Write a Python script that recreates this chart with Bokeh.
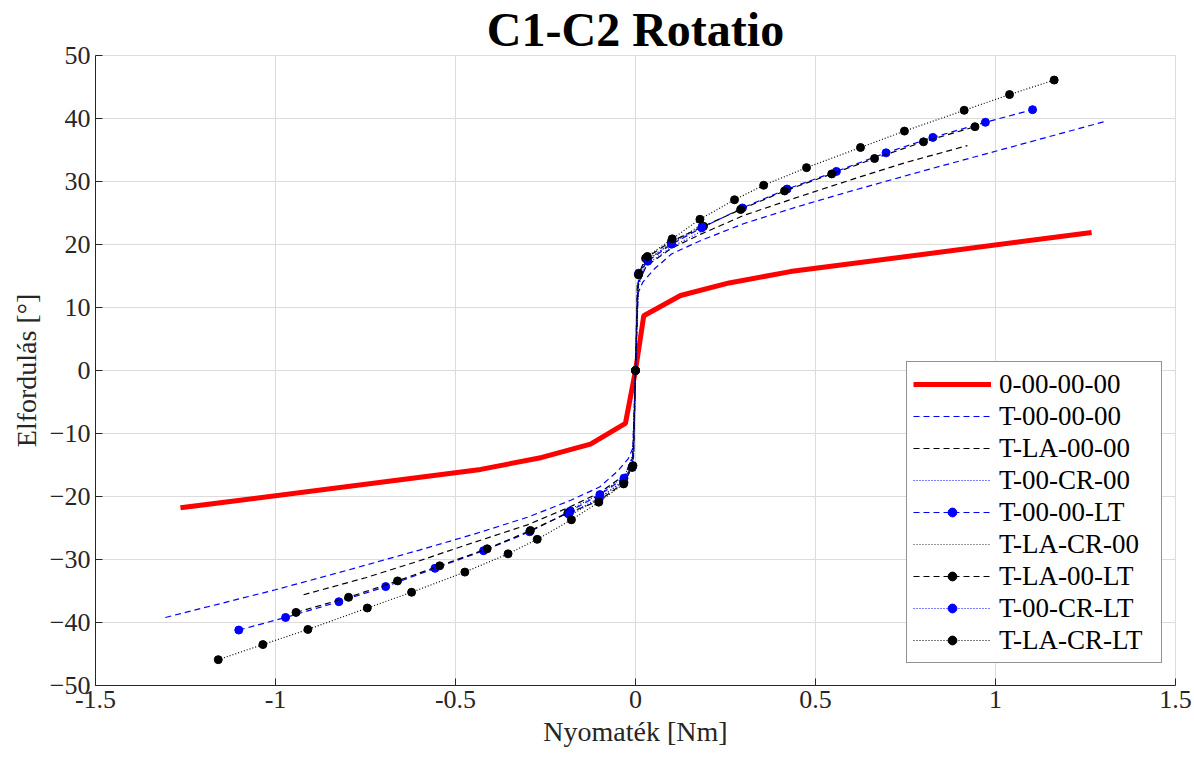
from bokeh.plotting import figure
from bokeh.models import Legend, LegendItem, FixedTicker, Range1d
from bokeh.embed import file_html
from bokeh.resources import INLINE

# ---------------- data ----------------
title_text = "C1-C2 Rotatio"

red_x = [-1.264, -0.43, -0.26, -0.125, -0.028, 0.0, 0.023, 0.125, 0.26, 0.43, 1.267]
red_y = [-21.8, -15.7, -13.8, -11.7, -8.4, 0.0, 8.7, 11.9, 13.9, 15.7, 21.9]

t0000_x = [-1.306, -1.0, -0.8, -0.6, -0.45, -0.3, -0.18, -0.1, -0.05, -0.02, -0.005, 0.0,
           0.005, 0.02, 0.05, 0.1, 0.18, 0.3, 0.45, 0.6, 0.8, 1.0, 1.302]
t0000_y = [-39.2, -34.8, -31.7, -28.5, -26.0, -23.3, -20.6, -18.5, -16.0, -14.0, -12.0, 0.0,
           12.0, 14.0, 16.0, 18.5, 20.6, 23.3, 26.0, 28.5, 31.7, 34.8, 39.5]

tla00_x = [-0.922, -0.75, -0.6, -0.45, -0.3, -0.18, -0.1, -0.03, -0.005, 0.0,
           0.005, 0.03, 0.1, 0.18, 0.3, 0.45, 0.6, 0.75, 0.922]
tla00_y = [-35.6, -32.9, -30.2, -27.3, -24.5, -21.6, -19.4, -16.6, -13.5, 0.0,
           13.5, 16.6, 19.4, 21.6, 24.6, 27.5, 30.3, 33.0, 35.7]

t0cr_x = [-0.19, -0.1, -0.03, -0.005, 0.0, 0.005, 0.03, 0.1, 0.19]
t0cr_y = [-22.3, -19.6, -16.8, -13.0, 0.0, 13.0, 16.8, 19.6, 22.3]

t00lt_x = [-1.102, -0.972, -0.824, -0.694, -0.557, -0.422, -0.294, -0.181, -0.099, -0.032, -0.009, 0.0,
           0.009, 0.034, 0.100, 0.184, 0.297, 0.421, 0.558, 0.696, 0.826, 0.972, 1.103]
t00lt_y = [-41.2, -39.2, -36.7, -34.3, -31.4, -28.6, -25.6, -22.3, -19.7, -17.1, -15.3, 0.0,
           15.45, 17.35, 20.05, 22.65, 25.8, 28.8, 31.6, 34.55, 37.0, 39.4, 41.4]

tlacr_x = [-0.19, -0.1, -0.03, -0.005, 0.0, 0.005, 0.03, 0.1, 0.19]
tlacr_y = [-23.3, -20.3, -17.3, -14.0, 0.0, 14.0, 17.3, 20.3, 23.3]

tla0lt_x = [-0.943, -0.797, -0.661, -0.544, -0.412, -0.292, -0.188, -0.102, -0.032, -0.007, 0.0,
            0.008, 0.028, 0.100, 0.189, 0.292, 0.414, 0.545, 0.664, 0.800, 0.943]
tla0lt_y = [-38.4, -36.0, -33.4, -31.0, -28.3, -25.4, -22.65, -20.7, -17.8, -15.1, 0.0,
            15.2, 17.8, 20.5, 22.9, 25.55, 28.5, 31.2, 33.65, 36.3, 38.7]

t0crlt_x = [-0.185, -0.1, -0.033, -0.009, 0.0, 0.009, 0.033, 0.1, 0.185]
t0crlt_y = [-22.8, -20.2, -17.6, -15.4, 0.0, 15.4, 17.6, 20.2, 22.8]

tlacrlt_x = [-1.159, -1.035, -0.910, -0.745, -0.622, -0.474, -0.354, -0.273, -0.178, -0.102, -0.033, -0.009, 0.0,
             0.009, 0.033, 0.102, 0.179, 0.275, 0.356, 0.475, 0.625, 0.747, 0.913, 1.039, 1.163]
tlacrlt_y = [-45.9, -43.5, -41.1, -37.7, -35.2, -32.0, -29.1, -26.8, -23.7, -20.9, -18.0, -15.3, 0.0,
             15.3, 18.1, 20.9, 24.0, 27.1, 29.4, 32.2, 35.4, 38.0, 41.3, 43.8, 46.1]

x_ticks = [-1.5, -1, -0.5, 0, 0.5, 1, 1.5]
x_tick_labels = ["-1.5", "-1", "-0.5", "0", "0.5", "1", "1.5"]
y_ticks = [-50, -40, -30, -20, -10, 0, 10, 20, 30, 40, 50]

labels = ["0-00-00-00", "T-00-00-00", "T-LA-00-00", "T-00-CR-00", "T-00-00-LT",
          "T-LA-CR-00", "T-LA-00-LT", "T-00-CR-LT", "T-LA-CR-LT"]

# ---------------- figure ----------------
FONT = "Liberation Serif"
AX = "#262626"
FW, FH = 1080, 630

p = figure(frame_width=FW, frame_height=FH,
           x_range=Range1d(-1.5, 1.5), y_range=Range1d(-50, 50),
           output_backend="svg", toolbar_location=None,
           min_border_left=95, min_border_right=19, min_border_top=55, min_border_bottom=75,
           title=title_text)
p.title.align = "center"
p.title.text_font = FONT
p.title.text_font_size = "48px"
p.title.text_font_style = "bold"
p.title.text_color = "#000000"
p.title.standoff = 0
p.title.offset = 0

p.outline_line_color = "#dcdcdc"
p.outline_line_width = 1

for ax in (p.xaxis[0], p.yaxis[0]):
    ax.axis_line_color = AX
    ax.axis_line_width = 1
    ax.major_tick_line_color = AX
    ax.major_tick_in = 7
    ax.major_tick_out = 0
    ax.minor_tick_line_color = None
    ax.major_label_text_font = FONT
    ax.major_label_text_font_size = "26px"
    ax.major_label_text_color = AX
    ax.axis_label_text_font = FONT
    ax.axis_label_text_font_size = "28px"
    ax.axis_label_text_font_style = "normal"
    ax.axis_label_text_color = AX

p.xaxis.ticker = FixedTicker(ticks=x_ticks)
p.yaxis.ticker = FixedTicker(ticks=y_ticks)
p.xaxis.major_label_overrides = {float(t): s for t, s in zip(x_ticks, x_tick_labels)}
p.xaxis.axis_label = "Nyomaték [Nm]"
p.yaxis.axis_label = "Elfordulás [°]"

p.xgrid.ticker = FixedTicker(ticks=x_ticks)
p.ygrid.ticker = FixedTicker(ticks=y_ticks)
for g in (p.xgrid[0], p.ygrid[0]):
    g.grid_line_color = "#dcdcdc"
    g.grid_line_width = 1

BLUE = "#0000ff"
BLACK = "#000000"
DASH = "6 4"
DOT = "1 2"

items = []
r = p.line(red_x, red_y, line_color="#ff0000", line_width=5)
items.append(LegendItem(label=labels[0], renderers=[r]))

r = p.line(t0000_x, t0000_y, line_color=BLUE, line_width=1.2, line_dash=DASH)
items.append(LegendItem(label=labels[1], renderers=[r]))

r = p.line(tla00_x, tla00_y, line_color=BLACK, line_width=1.2, line_dash=DASH)
items.append(LegendItem(label=labels[2], renderers=[r]))

r = p.line(t0cr_x, t0cr_y, line_color=BLUE, line_width=1.2, line_dash=DOT)
items.append(LegendItem(label=labels[3], renderers=[r]))

r1 = p.line(t00lt_x, t00lt_y, line_color=BLUE, line_width=1.2, line_dash=DASH)
r2 = p.scatter(t00lt_x, t00lt_y, size=8, fill_color=BLUE, line_color=BLUE)
items.append(LegendItem(label=labels[4], renderers=[r1, r2]))

r = p.line(tlacr_x, tlacr_y, line_color="#333333", line_width=1.2, line_dash=DOT)
items.append(LegendItem(label=labels[5], renderers=[r]))

r1 = p.line(tla0lt_x, tla0lt_y, line_color=BLACK, line_width=1.2, line_dash=DASH)
r2 = p.scatter(tla0lt_x, tla0lt_y, size=8, fill_color=BLACK, line_color=BLACK)
items.append(LegendItem(label=labels[6], renderers=[r1, r2]))

r1 = p.line(t0crlt_x, t0crlt_y, line_color=BLUE, line_width=1.2, line_dash=DOT)
r2 = p.scatter(t0crlt_x, t0crlt_y, size=8, fill_color=BLUE, line_color=BLUE)
items.append(LegendItem(label=labels[7], renderers=[r1, r2]))

r1 = p.line(tlacrlt_x, tlacrlt_y, line_color=BLACK, line_width=1.2, line_dash=DOT)
r2 = p.scatter(tlacrlt_x, tlacrlt_y, size=8, fill_color=BLACK, line_color=BLACK)
items.append(LegendItem(label=labels[8], renderers=[r1, r2]))

legend = Legend(items=items, location=(811, 22))
legend.label_text_font = FONT
legend.label_text_font_size = "27px"
legend.label_text_color = "#000000"
legend.glyph_width = 78
legend.glyph_height = 22
legend.label_height = 32
legend.label_width = 156
legend.spacing = 0
legend.padding = 6
legend.margin = 0
legend.label_standoff = 8
legend.border_line_color = AX
legend.border_line_width = 1
legend.background_fill_color = "white"
legend.background_fill_alpha = 1.0
p.add_layout(legend, "center")

open("out.html", "w").write(file_html(p, INLINE))
